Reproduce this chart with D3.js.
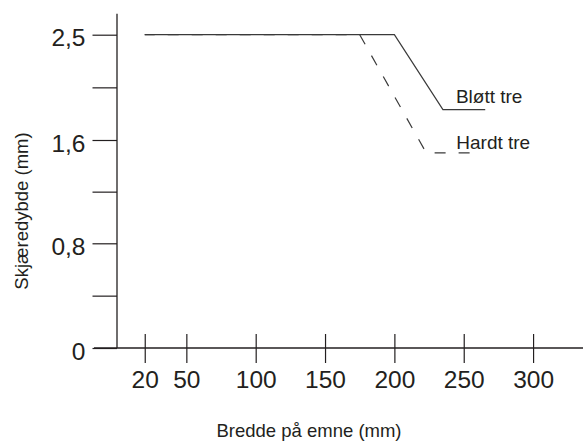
<!DOCTYPE html>
<html>
<head>
<meta charset="utf-8">
<script src="https://cdn.jsdelivr.net/npm/d3@7"></script>
<style>
  html, body { margin: 0; padding: 0; background: #fff; }
  svg { display: block; }
  text { font-family: "Liberation Sans", Arial, Helvetica, sans-serif; fill: #231f20; }
</style>
</head>
<body>
<script>
// ---- data ----
const xTickValues = [20, 50, 100, 150, 200, 250, 300];
const xTickLabels = ["20", "50", "100", "150", "200", "250", "300"];
const yTickValues = [0, 0.4, 0.8, 1.2, 1.6, 2.05, 2.5];
const yTickLabels = ["0", "", "0,8", "", "1,6", "", "2,5"];
const seriesNames = ["Bløtt tre", "Hardt tre"];
const blottX = [20, 200, 235, 265.5];
const blottY = [2.5, 2.5, 1.86, 1.86];
const hardtX = [20, 175, 223, 257];
const hardtY = [2.5, 2.5, 1.5, 1.5];
const xTitle = "Bredde på emne (mm)";
const yTitle = "Skjæredybde (mm)";

// ---- layout ----
const W = 583, H = 442;
const svg = d3.select("body").append("svg").attr("width", W).attr("height", H);

const x = d3.scaleLinear().domain([0, 336]).range([117, 583]);
const y = d3.scaleLinear().domain([0, 0.8, 1.6, 2.5]).range([348, 243.3, 140, 34.7]);

const axisColor = "#231f20";
const lineColor = "#3a3a3a";
const tickFont = 24.5;

// y axis
const yAxis = svg.append("g").attr("transform", `translate(${x(0)},0)`)
  .call(d3.axisLeft(y).tickValues(yTickValues).tickSize(24.5).tickPadding(7)
    .tickFormat((d, i) => yTickLabels[i]));
yAxis.select(".domain").remove();
yAxis.selectAll(".tick line").attr("stroke", axisColor).attr("stroke-width", 1.2);
yAxis.selectAll(".tick text").attr("font-size", tickFont).attr("dy", "0.45em")
  .style("font-family", '"Liberation Sans", Arial, sans-serif').attr("fill", axisColor);
svg.append("line").attr("x1", x(0)).attr("x2", x(0))
  .attr("y1", y(0)).attr("y2", y(2.5) - 21)
  .attr("stroke", axisColor).attr("stroke-width", 1.3);

// x axis
const xAxis = svg.append("g").attr("transform", `translate(0,${y(0)})`)
  .call(d3.axisBottom(x).tickValues(xTickValues).tickSize(15).tickPadding(7.5)
    .tickFormat((d, i) => xTickLabels[i]));
xAxis.select(".domain").remove();
xAxis.selectAll(".tick line").attr("y1", -14).attr("stroke", axisColor).attr("stroke-width", 1.2);
xAxis.selectAll(".tick text").attr("font-size", tickFont).attr("dy", "0.71em")
  .style("font-family", '"Liberation Sans", Arial, sans-serif').attr("fill", axisColor);
svg.append("line").attr("x1", x(0) - 23).attr("x2", W)
  .attr("y1", y(0)).attr("y2", y(0))
  .attr("stroke", axisColor).attr("stroke-width", 1.3);

// titles
svg.append("text").attr("x", 309).attr("y", 437).attr("text-anchor", "middle")
  .attr("font-size", 18.5).text(xTitle);
svg.append("text").attr("transform", `translate(28,211) rotate(-90)`)
  .attr("text-anchor", "middle").attr("font-size", 18.5).text(yTitle);

// lines
const line = d3.line().x(d => x(d[0])).y(d => y(d[1]));
const hardt = hardtX.map((v, i) => [v, hardtY[i]]);
const blott = blottX.map((v, i) => [v, blottY[i]]);

const dashOn = 11, dashOff = 13, period = dashOn + dashOff;
const firstLen = x(hardt[1][0]) - x(hardt[0][0]);
const offset = ((-firstLen % period) + period) % period;
svg.append("path").attr("d", line(hardt)).attr("fill", "none")
  .attr("stroke", lineColor).attr("stroke-width", 1.2)
  .attr("stroke-dasharray", `${dashOn},${dashOff}`)
  .attr("stroke-dashoffset", offset);

svg.append("path").attr("d", line(blott)).attr("fill", "none")
  .attr("stroke", lineColor).attr("stroke-width", 1.2);

// series labels
svg.append("text").attr("x", x(blott[2][0]) + 13).attr("y", y(blott[2][1]) - 6.5)
  .attr("font-size", 19).text(seriesNames[0]);
svg.append("text").attr("x", x(hardt[2][0]) + 30).attr("y", y(hardt[2][1]) - 3.5)
  .attr("font-size", 19).text(seriesNames[1]);
</script>
</body>
</html>
